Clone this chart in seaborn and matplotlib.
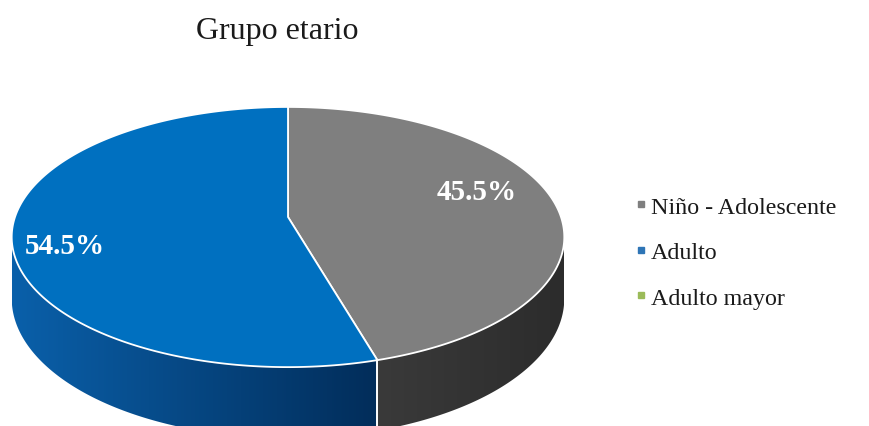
import numpy as np
import matplotlib
matplotlib.use("Agg")
import matplotlib.pyplot as plt
from matplotlib.patches import Polygon
from matplotlib.lines import Line2D
from matplotlib.colors import to_rgb
import seaborn as sns

# ---- data ----
title = "Grupo etario"
categories = ["Niño - Adolescente", "Adulto", "Adulto mayor"]
values = [45.5, 54.5, 0.0]

# ---- styling ----
top_colors = ["#7f7f7f", "#0070c0", "#9bbb59"]
legend_colors = ["#7f7f7f", "#2e75b6", "#9bbb59"]
side_colors = [("#3a3a3a", "#2c2c2c"), ("#0a60aa", "#022d5a"), ("#6f8a3c", "#56702c")]
label_xy = [(477, 193), (65, 247), None]

sns.set_theme(style="white")
plt.rcParams["font.family"] = ["Liberation Serif", "DejaVu Serif"]

W, H = 869, 427
fig = plt.figure(figsize=(W / 100, H / 100), dpi=100)
ax = fig.add_axes([0, 0, 1, 1])
ax.set_xlim(0, W)
ax.set_ylim(H, 0)
ax.axis("off")

# perspective view of the pie disc (pixel units)
cx, cy = 288, 218
R, B, k = 273, 127, 0.154
depth = 60


def project(phi, r=1.0):
    x = r * np.sin(phi)
    z = -r * np.cos(phi)
    s = 1.0 / (1.0 - k * z)
    return cx + R * x * s, cy + B * z * s, s


frac = np.asarray(values) / np.sum(values)
bounds = np.concatenate([[0.0], np.cumsum(frac)]) * 2 * np.pi

# visible part of the cylinder wall lies between the two silhouette points
side_lo = np.arccos(-k)
side_hi = 2 * np.pi - side_lo

# walls first
for i in range(len(values)):
    a0, a1 = max(bounds[i], side_lo), min(bounds[i + 1], side_hi)
    if a1 <= a0:
        continue
    phi = np.linspace(a0, a1, 200)
    X, Y, S = project(phi)
    pts = np.vstack([np.column_stack([X, Y]),
                     np.column_stack([X, Y + depth * S])[::-1]])
    poly = Polygon(pts, closed=True, facecolor="none", edgecolor="none")
    ax.add_patch(poly)
    c0, c1 = np.array(to_rgb(side_colors[i][0])), np.array(to_rgb(side_colors[i][1]))
    t = np.linspace(0, 1, 256)[:, None]
    grad = (c0 + (c1 - c0) * t)[None, :, :]
    y0, y1 = Y.min() - 2, (Y + depth * S).max() + 2
    im = ax.imshow(grad, extent=(X.min(), X.max(), y1, y0), aspect="auto",
                   interpolation="bilinear", zorder=1)
    im.set_clip_path(poly)

# white seams on the wall
for b in bounds[1:-1]:
    if side_lo < b < side_hi:
        X, Y, S = project(np.array([b]))
        ax.plot([X[0], X[0]], [Y[0], Y[0] + depth * S[0]], color="white", lw=1.4, zorder=2)

# top face
for i in range(len(values)):
    if frac[i] <= 0:
        continue
    phi = np.linspace(bounds[i], bounds[i + 1], 300)
    X, Y, _ = project(phi)
    pts = np.vstack([[cx, cy], np.column_stack([X, Y])])
    ax.add_patch(Polygon(pts, closed=True, facecolor=top_colors[i], edgecolor="white",
                         lw=1.3, joinstyle="round", zorder=3))

# value labels
for v, xy in zip(values, label_xy):
    if xy is None or v <= 0:
        continue
    ax.text(xy[0], xy[1], f"{v:.1f}%", color="white", fontsize=21, fontweight="bold",
            ha="center", va="center", zorder=4)

ax.text(277, 32, title, fontsize=23, color="#1a1a1a", ha="center", va="center")

handles = [Line2D([], [], marker="s", linestyle="", markersize=5, color=c) for c in legend_colors]
leg = ax.legend(handles, categories, loc="upper left", bbox_to_anchor=(634, 197),
                bbox_transform=ax.transData, frameon=False, fontsize=17.3,
                handlelength=0.6, handletextpad=0.1, labelspacing=0.98,
                borderpad=0.0, borderaxespad=0.0)
for t in leg.get_texts():
    t.set_color("#1a1a1a")

fig.savefig("out.png", dpi=100, facecolor="white")
